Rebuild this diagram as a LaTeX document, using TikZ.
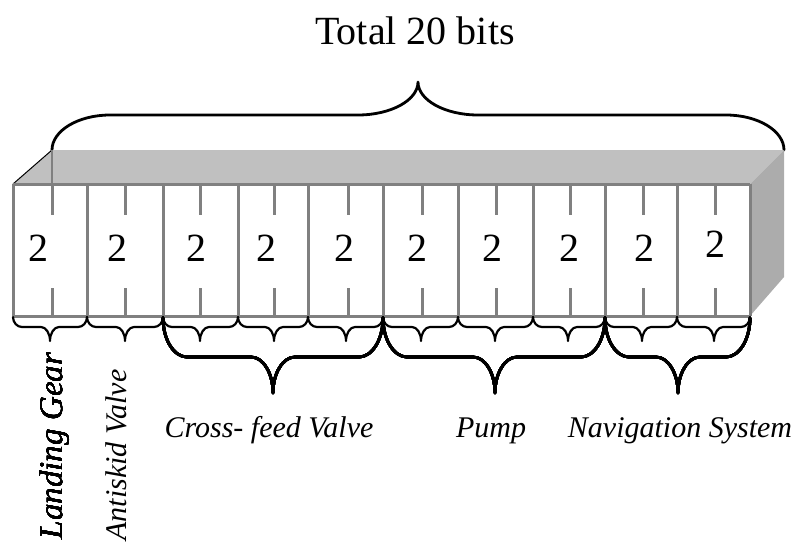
\documentclass[tikz,border=0pt]{standalone}
\usepackage{fontspec}
\setmainfont{Liberation Serif}
\definecolor{topgray}{RGB}{192,192,192}
\definecolor{sidegray}{RGB}{172,172,172}
\definecolor{linegray}{RGB}{128,128,128}
\tikzset{
  cellline/.style={draw=linegray, line width=3pt},
  bigbrace/.style={draw=black, line width=2.8pt, line cap=round, line join=round},
  smallbrace/.style={draw=black, line width=2.2pt, line cap=round, line join=round},
  digit/.style={font=\fontsize{40}{48}\selectfont, inner sep=0pt},
  lbl/.style={font=\fontsize{30}{36}\selectfont\itshape, inner sep=0pt, anchor=base},
}
% #1 style, #2 x1, #3 x2, #4 xm, #5 y0, #6 y1, #7 y2, #8 rc, #9 rt
\newcommand\drawbrace[9]{%
  \draw[#1] (#2,#5) .. controls (#2,{#5+0.55*(#6-#5)}) and ({#2+0.45*#8},#6) .. (#2+#8,#6)
    -- (#4-#9,#6)
    .. controls ({#4-0.45*#9},#6) and (#4,{#6+0.45*(#7-#6)}) .. (#4,#7)
    .. controls (#4,{#6+0.45*(#7-#6)}) and ({#4+0.45*#9},#6) .. (#4+#9,#6)
    -- (#3-#8,#6)
    .. controls ({#3-0.45*#8},#6) and (#3,{#5+0.55*(#6-#5)}) .. (#3,#5);
}
\begin{document}
\begin{tikzpicture}[x=1pt,y=-1pt]
\useasboundingbox (0,0) rectangle (797,544);
% title
\node[font=\fontsize{40}{48}\selectfont, anchor=base, inner sep=0pt] (title) at (415,44) {Total 20 bits};
% top brace
\drawbrace{bigbrace}{52}{784}{418}{150}{115}{82}{58}{60}
% box faces
\fill[topgray] (13,184) -- (52,150) -- (784,150) -- (750,184) -- cycle;
\draw[black, line width=1pt] (13,184) -- (52,150);
\draw[linegray, line width=1.5pt] (52,150) -- (52,184);
\fill[sidegray] (750,184) -- (784,150) -- (784,277) -- (750,316) -- cycle;
\fill[white] (13,184) rectangle (750,316);
% cell boundaries
\foreach \x in {13,87,163,238,308,383,458,533,605,677,750}
  \draw[cellline] (\x,184) -- (\x,316);
\draw[cellline] (13,184) -- (750,184);
\draw[cellline] (13,316) -- (750,316);
% cells: tick x, digit x, digit y
\foreach \t/\d/\dy [count=\i] in {52/38/248,125/117/248,200/196/248,274/266/248,348/344/248,422/417/248,496/492/248,570/569/248,643/644/248,715/715/244}{
  \draw[cellline] (\t,184) -- (\t,215);
  \draw[cellline] (\t,288) -- (\t,316);
  \node[digit] (d\i) at (\d,\dy) {2};
}
% small braces
\foreach \a/\b/\m in {13/87/50,87/163/125,163/238/200,238/308/274,308/383/346,383/458/421,458/533/495,533/605/568,605/677/642,677/750/714}
  \drawbrace{smallbrace}{\a}{\b}{\m}{317}{327}{341}{9}{9}
% big braces
\drawbrace{bigbrace}{163}{383}{273}{318}{357}{393}{24}{22}
\drawbrace{bigbrace}{383}{605}{495}{318}{357}{393}{24}{22}
\drawbrace{bigbrace}{605}{750}{678}{318}{357}{393}{24}{22}
% labels
\node[font=\fontsize{33}{40}\selectfont\itshape, rotate=90, inner sep=0pt] (lg) at (55,446) {Landing Gear};
\node[font=\fontsize{30}{36}\selectfont\itshape, rotate=90, inner sep=0pt] (av) at (116,455) {Antiskid Valve};
\node[lbl] (cf) at (269,437) {Cross- feed Valve};
\node[lbl] (pu) at (491,437) {Pump};
\node[lbl] (ns) at (680,437) {Navigation System};
\end{tikzpicture}
\end{document}
